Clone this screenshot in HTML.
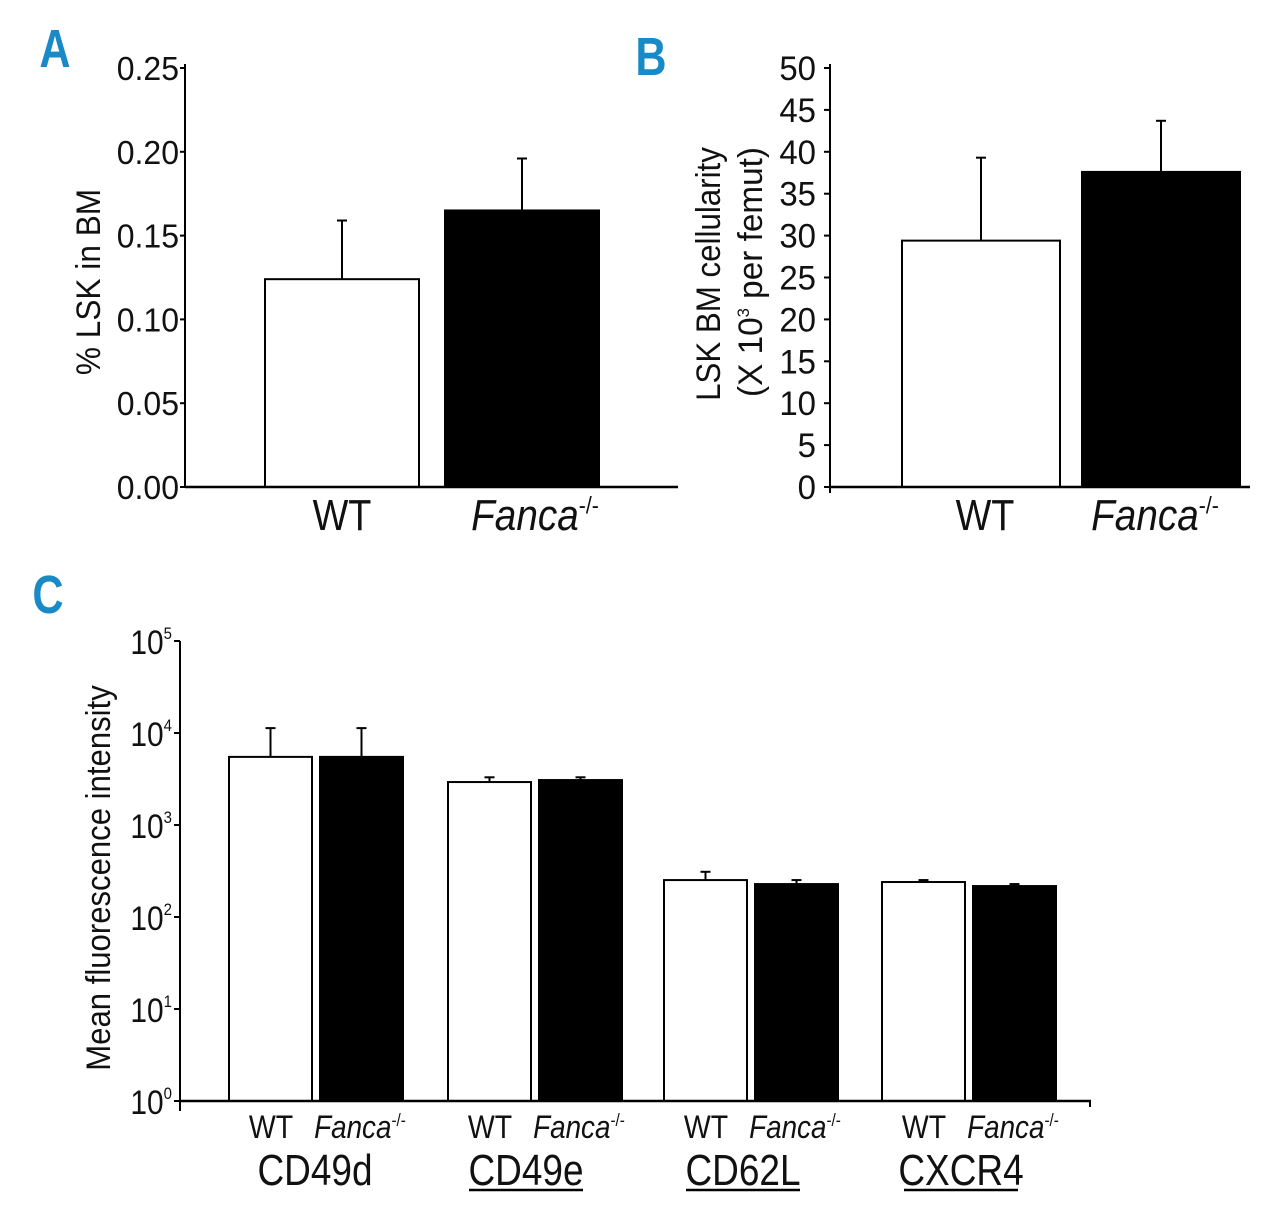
<!DOCTYPE html>
<html><head><meta charset="utf-8"><style>
html,body{margin:0;padding:0;background:#fff;}
svg{display:block;font-family:"Liberation Sans",sans-serif;}
</style></head><body>
<svg id="fig" width="1280" height="1221" viewBox="0 0 1280 1221" xmlns="http://www.w3.org/2000/svg"></svg>
<script>
// Panel A data
const aCategories = ["WT", "Fanca"];
const aValues = [0.124, 0.165];
const aErrors = [0.159, 0.196];
const aTicks = ["0.00","0.05","0.10","0.15","0.20","0.25"];
const aTickValues = [0,0.05,0.10,0.15,0.20,0.25];
// Panel B data
const bCategories = ["WT", "Fanca"];
const bValues = [29.4, 37.6];
const bErrors = [39.3, 43.7];
const bTickValues = [0,5,10,15,20,25,30,35,40,45,50];
// Panel C data
const cGroups = ["CD49d","CD49e","CD62L","CXCR4"];
const cWT = [5500, 2930, 252, 240];
const cWTErr = [11300, 3300, 310, 252];
const cKO = [5500, 3080, 228, 217];
const cKOErr = [11300, 3300, 252, 228];
const cTickExp = [0,1,2,3,4,5];

const NS="http://www.w3.org/2000/svg";
const svg=document.getElementById('fig');
function el(tag,attrs,parent){const e=document.createElementNS(NS,tag);for(const k in attrs)e.setAttribute(k,attrs[k]);(parent||svg).appendChild(e);return e;}
function txt(str,x,y,size,opts,parent){opts=opts||{};
  const g=el('g',{transform:`translate(${x},${y}) ${opts.rot?`rotate(${opts.rot})`:''} scale(${opts.sx||0.9},1)`},parent);
  const t=el('text',{x:0,y:0,'font-size':size,'text-anchor':opts.anchor||'middle',fill:opts.fill||'#111','font-style':opts.italic?'italic':'normal','font-weight':opts.bold?'bold':'normal'},g);
  t.textContent=str;return t;}
function fanca(x,y,size,parent,sx){
  const g=el('g',{transform:`translate(${x},${y}) scale(${sx},1)`},parent);
  const t=el('text',{x:0,y:0,'font-size':size,'text-anchor':'middle',fill:'#111'},g);
  const s1=el('tspan',{'font-style':'italic'},t);s1.textContent='Fanca';
  const s2=el('tspan',{'font-size':size*0.55,dy:-size*0.38},t);s2.textContent='-/-';
  return t;}

// Panel letters
let L=txt('A',55,67,54,{bold:true,fill:'#1a8ac6',sx:0.8});
L=txt('B',651,75,54,{bold:true,fill:'#1a8ac6',sx:0.8});
L=txt('C',48,613,54,{bold:true,fill:'#1a8ac6',sx:0.8});

// ---- Panel A
(function(){
  const g=el('g',{});
  const x0=185,y0=487,yTop=68,vmax=0.25;
  const ys=v=>y0-(v/vmax)*(y0-yTop);
  const barX=[265,445],bw=154;
  for(let i=0;i<aValues.length;i++){
    const ey=el('line',{x1:barX[i]+bw/2,x2:barX[i]+bw/2,y1:ys(aValues[i]),y2:ys(aErrors[i]),stroke:'#000','stroke-width':2},g);
    
    el('line',{x1:barX[i]+bw/2-5,x2:barX[i]+bw/2+5,y1:ys(aErrors[i]),y2:ys(aErrors[i]),stroke:'#000','stroke-width':2},g);
    const r=el('rect',{x:barX[i],y:ys(aValues[i]),width:bw,height:y0-ys(aValues[i]),fill:i?'#000':'#fff',stroke:'#000','stroke-width':2},g);
    
  }
  el('line',{x1:x0,x2:x0,y1:yTop-4,y2:y0,stroke:'#000','stroke-width':2},g);
  el('line',{x1:x0,x2:678,y1:y0,y2:y0,stroke:'#000','stroke-width':2.5},g);
  aTickValues.forEach((v,i)=>{
    el('line',{x1:x0-5,x2:x0,y1:ys(v),y2:ys(v),stroke:'#000','stroke-width':2},g);
    const t=txt(aTicks[i],179,ys(v)+12,33,{anchor:'end',sx:0.97},g);
    
  });
  let t=txt('WT',342,530,44,{sx:0.86},g);
  t=fanca(535,530,44,g,0.88);
  t=txt('% LSK in BM',100,282,34,{rot:-90,sx:0.93},g);
})();

// ---- Panel B
(function(){
  const g=el('g',{});
  const x0=830,y0=487,yTop=68,vmax=50;
  const ys=v=>y0-(v/vmax)*(y0-yTop);
  const barX=[902,1082],bw=158;
  for(let i=0;i<bValues.length;i++){
    const ey=el('line',{x1:barX[i]+bw/2,x2:barX[i]+bw/2,y1:ys(bValues[i]),y2:ys(bErrors[i]),stroke:'#000','stroke-width':2},g);
    
    el('line',{x1:barX[i]+bw/2-5,x2:barX[i]+bw/2+5,y1:ys(bErrors[i]),y2:ys(bErrors[i]),stroke:'#000','stroke-width':2},g);
    const r=el('rect',{x:barX[i],y:ys(bValues[i]),width:bw,height:y0-ys(bValues[i]),fill:i?'#000':'#fff',stroke:'#000','stroke-width':2},g);
    
  }
  el('line',{x1:x0,x2:x0,y1:yTop-4,y2:y0+6,stroke:'#000','stroke-width':2},g);
  el('line',{x1:x0,x2:1250,y1:y0,y2:y0,stroke:'#000','stroke-width':2.5},g);
  bTickValues.forEach(v=>{
    el('line',{x1:x0-6,x2:x0,y1:ys(v),y2:ys(v),stroke:'#000','stroke-width':2},g);
    const t=txt(String(v),816,ys(v)+12,34,{anchor:'end',sx:0.97},g);
    
  });
  let t=txt('WT',985,530,44,{sx:0.86},g);
  t=fanca(1155,530,44,g,0.88);
  t=txt('LSK BM cellularity',720,274,34,{rot:-90,sx:0.92},g);
  const gg=el('g',{transform:'translate(762,272) rotate(-90) scale(0.98,1)'},g);
  const tt=el('text',{x:0,y:0,'font-size':34,'text-anchor':'middle',fill:'#111'},gg);
  
  let s=el('tspan',{},tt);s.textContent='(X 10';
  s=el('tspan',{'font-size':17,dy:-13},tt);s.textContent='3';
  s=el('tspan',{dy:13},tt);s.textContent=' per femut)';
})();

// ---- Panel C
(function(){
  const g=el('g',{});
  const x0=180,y0=1101,yTop=641,dmax=5;
  const ys=v=>y0-(Math.log10(v)/dmax)*(y0-yTop);
  const groupStart=[229,448,664,882],bw=83,gap=8;
  const labelCenter=[315,526,743,961];
  for(let i=0;i<cGroups.length;i++){
    const xs=[groupStart[i],groupStart[i]+bw+gap];
    const vals=[cWT[i],cKO[i]],errs=[cWTErr[i],cKOErr[i]];
    for(let j=0;j<2;j++){
      const cx=xs[j]+bw/2;
      const ey=el('line',{x1:cx,x2:cx,y1:ys(vals[j]),y2:ys(errs[j]),stroke:'#000','stroke-width':2},g);
      
      el('line',{x1:cx-5,x2:cx+5,y1:ys(errs[j]),y2:ys(errs[j]),stroke:'#000','stroke-width':2},g);
      const r=el('rect',{x:xs[j],y:ys(vals[j]),width:bw,height:y0-ys(vals[j]),fill:j?'#000':'#fff',stroke:'#000','stroke-width':2},g);
      
    }
    let t=txt('WT',xs[0]+42,1138,32,{sx:0.89},g);
    t=fanca(xs[1]+40,1138,32,g,0.87);
    const gx=labelCenter[i];
    t=txt(cGroups[i],gx,1185,44,{sx:0.84},g);
    if(i>0){const u=el('line',{x1:gx-57,x2:gx+57,y1:1190,y2:1190,stroke:'#000','stroke-width':2.5},g);}
  }
  el('line',{x1:x0,x2:x0,y1:yTop,y2:y0+10,stroke:'#000','stroke-width':2},g);
  el('line',{x1:x0,x2:1091,y1:y0,y2:y0,stroke:'#000','stroke-width':2.5},g);
  el('line',{x1:1090,x2:1090,y1:y0,y2:y0+6,stroke:'#000','stroke-width':2},g);
  cTickExp.forEach(e=>{
    const y=ys(Math.pow(10,e));
    el('line',{x1:x0-6,x2:x0,y1:y,y2:y,stroke:'#000','stroke-width':2},g);
    const gg=el('g',{transform:`translate(172,${y+13}) scale(0.88,1)`},g);
    const t=el('text',{x:0,y:0,'font-size':34,'text-anchor':'end',fill:'#111'},gg);
    
    let s=el('tspan',{},t);s.textContent='10';
    s=el('tspan',{'font-size':17,dy:-15},t);s.textContent=String(e);
  });
  const t=txt('Mean fluorescence intensity',110,878,34,{rot:-90,sx:0.915},g);
})();
</script>
</body></html>
